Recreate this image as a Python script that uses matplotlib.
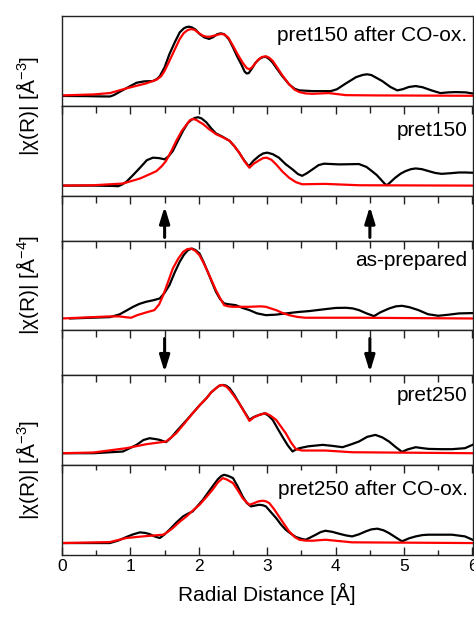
import matplotlib
matplotlib.use("Agg")
import matplotlib.pyplot as plt
import numpy as np

plt.rcParams['font.family'] = ['Liberation Sans', 'DejaVu Sans']
plt.rcParams['mathtext.default'] = 'regular'

# |chi(R)|, as fraction of each panel's height
# pret150 after CO-ox.
p1_x_exp = [0.0, 0.36, 0.55, 0.70, 0.76, 0.82, 0.95, 1.09, 1.20, 1.33, 1.39, 1.43, 1.50, 1.57, 1.65, 1.72,
            1.78, 1.82, 1.86, 1.90, 1.95, 2.01, 2.08, 2.15, 2.21, 2.27, 2.32, 2.37, 2.44, 2.50, 2.56, 2.62,
            2.67, 2.70, 2.73, 2.78, 2.83, 2.89, 2.94, 2.98, 3.03, 3.08, 3.13, 3.22, 3.32, 3.40, 3.47, 3.66,
            3.93, 4.02, 4.15, 4.30, 4.40, 4.46, 4.52, 4.60, 4.68, 4.80, 4.90, 4.98, 5.07, 5.17, 5.27, 5.40,
            5.53, 5.65, 5.75, 5.90, 6.0]
p1_y_exp = [0.11, 0.108, 0.105, 0.104, 0.12, 0.146, 0.20, 0.257, 0.272, 0.276, 0.30, 0.33, 0.43, 0.575, 0.71, 0.817,
            0.862, 0.877, 0.881, 0.872, 0.85, 0.80, 0.762, 0.745, 0.765, 0.798, 0.807, 0.798, 0.74, 0.649, 0.55, 0.463,
            0.38, 0.36, 0.365, 0.42, 0.481, 0.525, 0.543, 0.545, 0.52, 0.48, 0.425, 0.33, 0.239, 0.19, 0.172, 0.164,
            0.164, 0.185, 0.25, 0.32, 0.345, 0.351, 0.343, 0.31, 0.276, 0.21, 0.172, 0.185, 0.21, 0.22, 0.207, 0.172,
            0.142, 0.150, 0.153, 0.15, 0.138]
p1_x_fit = [0.0, 0.46, 0.70, 0.94, 1.23, 1.38, 1.45, 1.50, 1.57, 1.65, 1.72, 1.78, 1.84, 1.89, 1.94, 2.00,
            2.06, 2.11, 2.16, 2.26, 2.32, 2.37, 2.43, 2.50, 2.57, 2.64, 2.70, 2.74, 2.78, 2.86, 2.92, 2.98,
            3.03, 3.08, 3.13, 3.22, 3.32, 3.40, 3.47, 3.56, 3.66, 3.90, 4.15, 4.58, 6.0]
p1_y_fit = [0.116, 0.127, 0.142, 0.194, 0.25, 0.29, 0.33, 0.39, 0.50, 0.63, 0.743, 0.81, 0.845, 0.854, 0.845, 0.81,
            0.78, 0.77, 0.769, 0.788, 0.800, 0.795, 0.76, 0.668, 0.57, 0.481, 0.42, 0.407, 0.43, 0.507, 0.543, 0.552,
            0.535, 0.50, 0.444, 0.34, 0.239, 0.18, 0.153, 0.138, 0.134, 0.142, 0.119, 0.116, 0.112]

# pret150
p2_x_exp = [0.0, 0.46, 0.75, 0.82, 0.88, 0.94, 1.04, 1.14, 1.24, 1.33, 1.42, 1.50, 1.56, 1.62, 1.70, 1.77,
            1.84, 1.89, 1.94, 1.99, 2.04, 2.11, 2.18, 2.25, 2.35, 2.45, 2.52, 2.59, 2.66, 2.73, 2.80, 2.88,
            2.94, 3.00, 3.08, 3.17, 3.27, 3.37, 3.45, 3.51, 3.58, 3.66, 3.75, 3.83, 4.05, 4.34, 4.45, 4.53,
            4.60, 4.66, 4.72, 4.75, 4.80, 4.87, 4.95, 5.02, 5.10, 5.17, 5.26, 5.36, 5.46, 5.55, 5.68, 5.80,
            5.90, 6.0]
p2_y_exp = [0.112, 0.112, 0.108, 0.105, 0.125, 0.154, 0.23, 0.311, 0.395, 0.423, 0.418, 0.404, 0.44, 0.498, 0.62, 0.723,
            0.81, 0.843, 0.865, 0.873, 0.86, 0.816, 0.75, 0.693, 0.655, 0.610, 0.55, 0.479, 0.395, 0.326, 0.39, 0.442,
            0.47, 0.479, 0.462, 0.423, 0.35, 0.292, 0.24, 0.221, 0.25, 0.292, 0.34, 0.356, 0.348, 0.352, 0.32, 0.273,
            0.23, 0.180, 0.13, 0.116, 0.15, 0.199, 0.245, 0.273, 0.295, 0.303, 0.295, 0.273, 0.252, 0.243, 0.250, 0.258,
            0.258, 0.255]
p2_x_fit = [0.0, 0.46, 0.89, 1.14, 1.30, 1.38, 1.46, 1.52, 1.60, 1.67, 1.75, 1.82, 1.87, 1.91, 1.96, 2.01,
            2.06, 2.15, 2.25, 2.35, 2.45, 2.52, 2.59, 2.67, 2.74, 2.80, 2.88, 2.94, 2.99, 3.06, 3.13, 3.22,
            3.32, 3.42, 3.51, 3.85, 4.34, 6.0]
p2_y_fit = [0.112, 0.116, 0.135, 0.191, 0.245, 0.273, 0.33, 0.386, 0.50, 0.610, 0.72, 0.79, 0.84, 0.854, 0.845, 0.82,
            0.798, 0.74, 0.685, 0.65, 0.610, 0.55, 0.479, 0.38, 0.311, 0.355, 0.393, 0.418, 0.423, 0.40, 0.348, 0.27,
            0.199, 0.15, 0.127, 0.131, 0.116, 0.112]

# as-prepared
p3_x_exp = [0.12, 0.70, 0.84, 0.94, 1.04, 1.13, 1.23, 1.33, 1.43, 1.50, 1.57, 1.65, 1.72, 1.78, 1.84, 1.90,
            1.95, 2.01, 2.07, 2.13, 2.19, 2.25, 2.31, 2.37, 2.45, 2.54, 2.64, 2.74, 2.85, 2.98, 3.12, 3.27,
            3.45, 3.61, 3.85, 4.00, 4.15, 4.25, 4.34, 4.45, 4.56, 4.65, 4.78, 4.88, 4.97, 5.08, 5.21, 5.35,
            5.50, 5.65, 5.80, 6.0]
p3_y_exp = [0.133, 0.148, 0.178, 0.22, 0.263, 0.295, 0.319, 0.335, 0.356, 0.42, 0.504, 0.65, 0.763, 0.84, 0.893, 0.911,
            0.895, 0.856, 0.76, 0.652, 0.54, 0.430, 0.35, 0.300, 0.290, 0.281, 0.25, 0.226, 0.19, 0.170, 0.175, 0.189,
            0.205, 0.215, 0.237, 0.25, 0.252, 0.245, 0.226, 0.19, 0.159, 0.20, 0.244, 0.268, 0.274, 0.258, 0.226, 0.18,
            0.163, 0.175, 0.189, 0.193]
p3_x_fit = [0.0, 0.70, 0.84, 0.92, 1.01, 1.10, 1.23, 1.35, 1.42, 1.48, 1.55, 1.62, 1.70, 1.77, 1.83, 1.89,
            1.95, 2.01, 2.07, 2.13, 2.19, 2.25, 2.31, 2.37, 2.43, 2.50, 2.74, 2.90, 2.98, 3.05, 3.13, 3.22,
            3.32, 3.44, 3.56, 3.85, 4.34, 6.0]
p3_y_fit = [0.133, 0.156, 0.156, 0.148, 0.141, 0.17, 0.200, 0.226, 0.29, 0.393, 0.54, 0.689, 0.80, 0.874, 0.905, 0.911,
            0.885, 0.837, 0.75, 0.652, 0.55, 0.448, 0.36, 0.281, 0.268, 0.263, 0.263, 0.268, 0.263, 0.245, 0.226, 0.195,
            0.170, 0.15, 0.141, 0.141, 0.141, 0.133]

# pret250
p4_x_exp = [0.0, 0.46, 0.89, 0.98, 1.09, 1.19, 1.28, 1.37, 1.43, 1.52, 1.60, 1.67, 1.79, 1.91, 2.01, 2.11,
            2.18, 2.25, 2.30, 2.35, 2.40, 2.45, 2.52, 2.59, 2.67, 2.74, 2.80, 2.88, 2.96, 3.02, 3.08, 3.15,
            3.22, 3.30, 3.37, 3.42, 3.47, 3.60, 3.81, 3.95, 4.10, 4.22, 4.34, 4.46, 4.58, 4.68, 4.78, 4.88,
            4.97, 5.05, 5.17, 5.26, 5.36, 5.55, 5.70, 5.89, 6.0]
p4_y_exp = [0.133, 0.133, 0.152, 0.185, 0.226, 0.28, 0.300, 0.29, 0.281, 0.256, 0.31, 0.374, 0.475, 0.578, 0.665, 0.744,
            0.81, 0.856, 0.885, 0.893, 0.885, 0.856, 0.78, 0.689, 0.59, 0.504, 0.535, 0.559, 0.578, 0.55, 0.504, 0.41,
            0.319, 0.22, 0.152, 0.175, 0.189, 0.21, 0.226, 0.215, 0.200, 0.23, 0.263, 0.315, 0.337, 0.31, 0.263, 0.20,
            0.148, 0.175, 0.200, 0.19, 0.181, 0.178, 0.178, 0.189, 0.226]
p4_x_fit = [0.0, 0.46, 0.94, 1.23, 1.52, 1.60, 1.67, 1.79, 1.91, 2.01, 2.11, 2.18, 2.25, 2.30, 2.34, 2.40,
            2.45, 2.52, 2.59, 2.67, 2.74, 2.80, 2.88, 2.98, 3.05, 3.13, 3.20, 3.27, 3.35, 3.42, 3.51, 3.85,
            4.24, 6.0]
p4_y_fit = [0.133, 0.141, 0.189, 0.233, 0.263, 0.31, 0.356, 0.465, 0.578, 0.665, 0.744, 0.81, 0.856, 0.885, 0.893, 0.875,
            0.837, 0.765, 0.689, 0.585, 0.493, 0.53, 0.559, 0.578, 0.55, 0.504, 0.43, 0.356, 0.25, 0.178, 0.163, 0.163,
            0.144, 0.133]

# pret250 after CO-ox.
p5_x_exp = [0.0, 0.70, 0.82, 0.94, 1.04, 1.14, 1.22, 1.28, 1.36, 1.43, 1.50, 1.57, 1.67, 1.77, 1.84, 1.91,
            1.98, 2.06, 2.13, 2.20, 2.28, 2.33, 2.37, 2.43, 2.50, 2.57, 2.64, 2.70, 2.76, 2.82, 2.88, 2.93,
            2.98, 3.05, 3.13, 3.20, 3.27, 3.35, 3.42, 3.50, 3.56, 3.63, 3.71, 3.78, 3.85, 3.95, 4.05, 4.15,
            4.24, 4.34, 4.44, 4.52, 4.61, 4.70, 4.78, 4.88, 4.97, 5.07, 5.17, 5.27, 5.36, 5.70, 5.89, 6.0]
p5_y_exp = [0.133, 0.133, 0.16, 0.200, 0.23, 0.252, 0.245, 0.233, 0.205, 0.189, 0.23, 0.281, 0.36, 0.430, 0.46, 0.485,
            0.545, 0.615, 0.69, 0.763, 0.845, 0.88, 0.893, 0.88, 0.856, 0.76, 0.652, 0.58, 0.541, 0.55, 0.559, 0.555,
            0.541, 0.48, 0.411, 0.34, 0.281, 0.235, 0.200, 0.18, 0.170, 0.195, 0.226, 0.255, 0.270, 0.258, 0.237, 0.218,
            0.207, 0.23, 0.263, 0.285, 0.293, 0.275, 0.244, 0.195, 0.152, 0.185, 0.207, 0.222, 0.226, 0.226, 0.207, 0.170]
p5_x_fit = [0.0, 0.70, 0.94, 1.18, 1.48, 1.55, 1.62, 1.72, 1.82, 1.92, 2.01, 2.11, 2.20, 2.28, 2.35, 2.41,
            2.50, 2.57, 2.64, 2.70, 2.74, 2.80, 2.87, 2.93, 2.98, 3.03, 3.10, 3.17, 3.25, 3.32, 3.40, 3.47,
            3.56, 3.66, 3.85, 4.24, 6.0]
p5_y_fit = [0.133, 0.144, 0.189, 0.207, 0.226, 0.26, 0.300, 0.37, 0.430, 0.50, 0.559, 0.645, 0.726, 0.81, 0.856, 0.84,
            0.800, 0.72, 0.633, 0.585, 0.559, 0.575, 0.597, 0.604, 0.598, 0.578, 0.51, 0.430, 0.34, 0.263, 0.20, 0.170,
            0.16, 0.159, 0.170, 0.141, 0.133]

panel_names = ["pret150 after CO-ox.", "pret150", "as-prepared", "pret250", "pret250 after CO-ox."]
label_y = [0.725, 0.666, 0.719, 0.719, 0.67]
arrow_x = [1.5, 4.5]

panels = [(p1_x_exp, p1_y_exp, p1_x_fit, p1_y_fit),
          (p2_x_exp, p2_y_exp, p2_x_fit, p2_y_fit),
          (p3_x_exp, p3_y_exp, p3_x_fit, p3_y_fit),
          (p4_x_exp, p4_y_exp, p4_x_fit, p4_y_fit),
          (p5_x_exp, p5_y_exp, p5_x_fit, p5_y_fit)]

fig = plt.figure(figsize=(4.74, 6.19), dpi=100)
gs = fig.add_gridspec(7, 1, height_ratios=[2, 2, 1, 2, 1, 2, 2], hspace=0,
                      left=62 / 474, right=472.5 / 474, top=1 - 16 / 619, bottom=1 - 555 / 619)
axes = [fig.add_subplot(gs[i]) for i in range(7)]
data_axes = [axes[0], axes[1], axes[3], axes[5], axes[6]]

for i, ax in enumerate(axes):
    ax.set_xlim(0, 6)
    ax.set_ylim(0, 1)
    ax.set_yticks([])
    ax.set_xticks(np.arange(0, 7, 1))
    ax.set_xticks(np.arange(0.5, 6, 1), minor=True)
    for s in ax.spines.values():
        s.set_linewidth(1.0)
        s.set_color('#222222')
    ax.tick_params(axis='x', which='both', bottom=False, top=(i > 0), direction='in',
                   labelbottom=False, width=1.0, color='#222222')
    ax.tick_params(axis='x', which='major', length=6)
    ax.tick_params(axis='x', which='minor', length=5)

for ax, (xe, ye, xf, yf), name, ly in zip(data_axes, panels, panel_names, label_y):
    ax.plot(xe, ye, color='black', lw=1.6, solid_joinstyle='round')
    ax.plot(xf, yf, color='#ff0000', lw=1.6, solid_joinstyle='round')
    ax.text(0.988, ly, name, transform=ax.transAxes, ha='right', va='baseline', fontsize=15)

# arrows between panels
for ax, up in [(axes[2], True), (axes[4], False)]:
    for xa in arrow_x:
        if up:
            y0, y1 = 0.07, 0.76
        else:
            y0, y1 = 0.82, 0.07
        ax.annotate('', xy=(xa, y1), xytext=(xa, y0),
                    arrowprops=dict(arrowstyle='-|>,head_length=0.65,head_width=0.2',
                                    mutation_scale=15, lw=2.2, color='black',
                                    shrinkA=0, shrinkB=0))

bottom = axes[6]
bottom.tick_params(axis='x', which='both', bottom=True, labelbottom=True)
bottom.tick_params(axis='x', which='major', direction='out', length=6, labelsize=12.5, pad=3)
bottom.tick_params(axis='x', which='minor', direction='out', length=3.5)
bottom.tick_params(axis='x', which='both', top=True, direction='in')
bottom.set_xlabel('Radial Distance [Å]', fontsize=15, labelpad=6)

fig.text(0.057, 1 - 106 / 619, '|χ(R)| [Å$^{-3}$]', rotation=90, ha='center', va='center', fontsize=15)
fig.text(0.057, 1 - 285 / 619, '|χ(R)| [Å$^{-4}$]', rotation=90, ha='center', va='center', fontsize=15)
fig.text(0.057, 1 - 470 / 619, '|χ(R)| [Å$^{-3}$]', rotation=90, ha='center', va='center', fontsize=15)

fig.savefig('out.png', dpi=100)
